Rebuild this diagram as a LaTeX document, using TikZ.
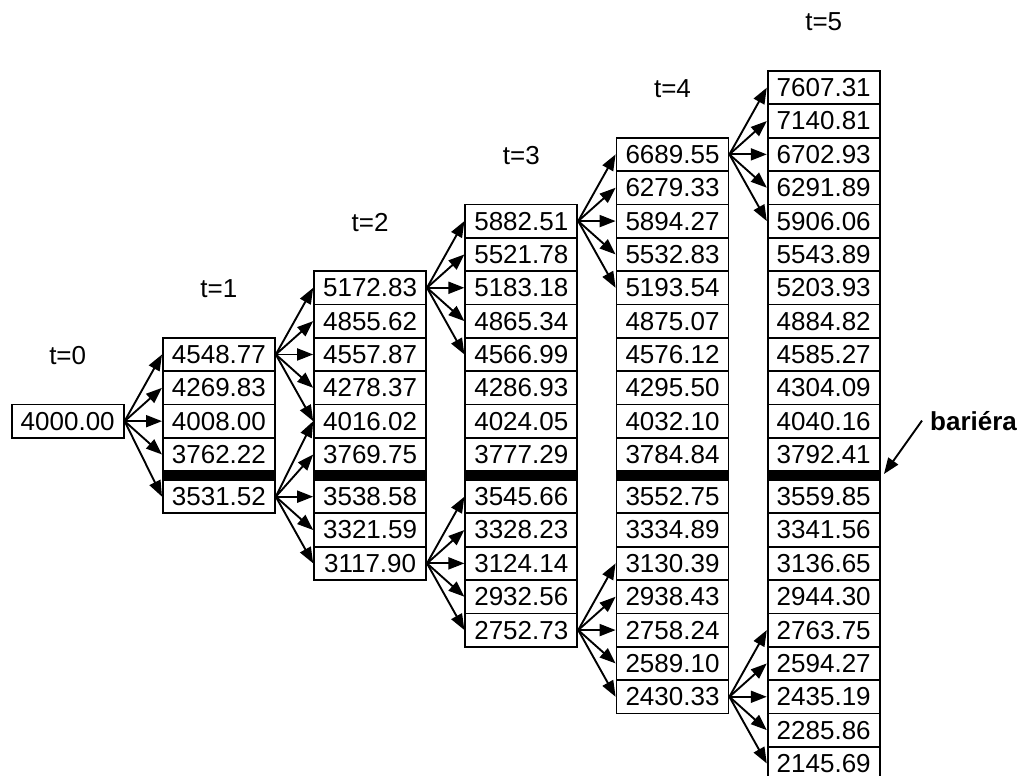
\documentclass[tikz,border=0pt]{standalone}
\usepackage{fontspec}
\setmainfont{Liberation Sans}
\usetikzlibrary{arrows.meta}
\begin{document}
\begin{tikzpicture}[x=1pt,y=-1pt,
  cell/.style={draw,line width=1.8pt,minimum width=112pt,minimum height=33.35pt,inner sep=0pt,font=\fontsize{26}{28}\selectfont},
  arr/.style={line width=1.9pt,-{Triangle[length=16pt,width=12pt]}},
  tlab/.style={font=\fontsize{26}{28}\selectfont},
  barrierband/.style={fill=black}]
\useasboundingbox (0,0) rectangle (1023,776);
\foreach \t/\vals in {
  0/{4000.00},
  1/{4548.77,4269.83,4008.00,3762.22,3531.52},
  2/{5172.83,4855.62,4557.87,4278.37,4016.02,3769.75,3538.58,3321.59,3117.90},
  3/{5882.51,5521.78,5183.18,4865.34,4566.99,4286.93,4024.05,3777.29,3545.66,3328.23,3124.14,2932.56,2752.73},
  4/{6689.55,6279.33,5894.27,5532.83,5193.54,4875.07,4576.12,4295.50,4032.10,3784.84,3552.75,3334.89,3130.39,2938.43,2758.24,2589.10,2430.33},
  5/{7607.31,7140.81,6702.93,6291.89,5906.06,5543.89,5203.93,4884.82,4585.27,4304.09,4040.16,3792.41,3559.85,3341.56,3136.65,2944.30,2763.75,2594.27,2435.19,2285.86,2145.69}}{
  \pgfmathsetmacro\cx{11.7+151.2*\t+56}
  \pgfmathsetmacro\topy{71+33.35*(10-2*\t)}
  \node[tlab] (t\t) at (\cx,\topy-49) {t=\t};
  \foreach \v [count=\i from 0] in \vals {
    \pgfmathtruncatemacro\mi{10+2*\t-\i}
    \pgfmathsetmacro\yy{ifthenelse(\mi>=9, 71+33.35*(20-\mi)+16.675, 480+33.35*(8-\mi)+16.675)}
    \node[cell] (n\t-\mi) at (\cx,\yy) {\v};
  }
  \ifnum\t>0
    \fill[barrierband] ({11.7+151.2*\t-0.9},469.5) rectangle ({11.7+151.2*\t+112.9},480.5);
  \fi
}
\foreach \t in {0,...,4}{
  \pgfmathtruncatemacro\nt{\t+1}
  \pgfmathtruncatemacro\mt{10+2*\t}
  \pgfmathtruncatemacro\mb{10-2*\t}
  \foreach \d in {-2,...,2}{
    \pgfmathtruncatemacro\mm{\mt+\d}
    \draw[arr] (n\t-\mt.east) -- (n\nt-\mm.west);
    \ifnum\t>0
      \pgfmathtruncatemacro\mn{\mb+\d}
      \draw[arr] (n\t-\mb.east) -- (n\nt-\mn.west);
    \fi
  }
}
\node[font=\bfseries\fontsize{26}{28}\selectfont,anchor=base west,inner sep=8pt] (bar) at (922,430) {bariéra};
\coordinate (bend) at (884,474);
\draw[arr] (bar.west) -- (bend);
\end{tikzpicture}
\end{document}
